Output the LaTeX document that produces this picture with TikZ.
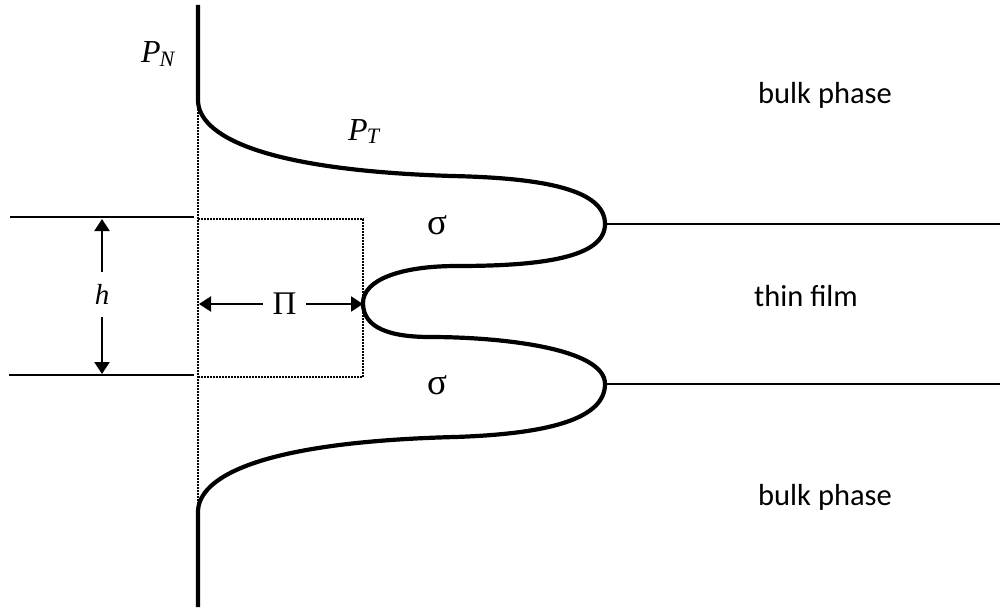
\documentclass[tikz,border=0pt]{standalone}
\usepackage{fontspec}
\setmainfont{Liberation Serif}
\newfontfamily\calib{Carlito}
\usetikzlibrary{arrows.meta}
\tikzset{
  thick curve/.style={line width=4.2pt, line cap=butt},
  thin line/.style={line width=1.7pt},
  dot line/.style={line width=1.8pt, dash pattern=on 1.6pt off 1.4pt},
  dim arrow/.style={line width=2.2pt, -{Triangle[length=12pt,width=15pt]}},
  lbl/.style={font=\fontsize{30.5}{32}\selectfont\calib, inner sep=0pt, anchor=base},
  mlbl/.style={font=\fontsize{37}{38}\selectfont, inner sep=0pt, anchor=base},
  ilbl/.style={font=\fontsize{32}{34}\selectfont\itshape, inner sep=0pt, anchor=base west},
}
\newcommand{\subsc}[1]{\kern-1pt\raisebox{-3.5pt}{\fontsize{22}{23}\selectfont #1}}
\begin{document}
\begin{tikzpicture}[x=1pt,y=-1pt]
\useasboundingbox (0,0) rectangle (1002,610);
% key points
\coordinate (top) at (198,5);
\coordinate (a) at (198,100);
\coordinate (b) at (452,176);
\coordinate (c) at (605,224);
\coordinate (d) at (457,266);
\coordinate (e) at (363,303);
\coordinate (f) at (430,337);
\coordinate (g) at (605,384);
\coordinate (k) at (455,437);
\coordinate (m) at (198,512);
\coordinate (bot) at (198,607);
% dotted guides
\draw[dot line] (a) -- (m);
\coordinate (bx1) at (198,219);
\coordinate (bx2) at (363,377);
\coordinate (bx3) at (198,377);
\draw[dot line] (bx1) -| (bx2) -- (bx3);
% horizontal lines
\coordinate (hl1) at (10,217);
\coordinate (hl1e) at (194,217);
\coordinate (hl2) at (9,375);
\coordinate (hl2e) at (194,375);
\draw[thin line] (hl1) -- (hl1e);
\draw[thin line] (hl2) -- (hl2e);
\coordinate (rl1e) at (1000,224);
\coordinate (rl2e) at (1000,384);
\draw[thin line] (c) -- (rl1e);
\draw[thin line] (g) -- (rl2e);
% main curve
\draw[thick curve] (top) -- (a)
  .. controls (198,135) and (260,170) .. (b)
  .. controls (545,178) and (605,190) .. (c)
  .. controls (605,258) and (540,266) .. (d)
  .. controls (400,266) and (363,280) .. (e)
  .. controls (363,328) and (390,337) .. (f)
  .. controls (500,337) and (605,348) .. (g)
  .. controls (605,420) and (545,434) .. (k)
  .. controls (260,442) and (198,477) .. (m)
  -- (bot);
% labels
\node[ilbl] (pn) at (141,63) {P\subsc{N}};
\node[ilbl] (pt) at (348,140) {P\subsc{T}};
\node[mlbl] (s1) at (437,234) {σ};
\node[mlbl] (s2) at (437,394) {σ};
\node[lbl] (b1) at (825,103) {bulk phase};
\node[lbl] (tf) at (806,306) {thin film};
\node[lbl] (b2) at (825,505) {bulk phase};
% h arrow
\node[font=\fontsize{29}{30}\selectfont\itshape, inner sep=0pt, minimum height=45pt, minimum width=14pt] (h) at (102,294.5) {h};
\coordinate (ht) at (102,219);
\coordinate (hb) at (102,374);
\draw[dim arrow] (h.north) -- (ht);
\draw[dim arrow] (h.south) -- (hb);
% Pi arrow
\node[font=\fontsize{33}{34}\selectfont, inner sep=0pt, minimum width=43pt, minimum height=20pt] (pi) at (284.5,304) {Π};
\coordinate (pl) at (199,304);
\coordinate (pr) at (363,304);
\draw[dim arrow] (pi.west) -- (pl);
\draw[dim arrow] (pi.east) -- (pr);
\end{tikzpicture}
\end{document}
